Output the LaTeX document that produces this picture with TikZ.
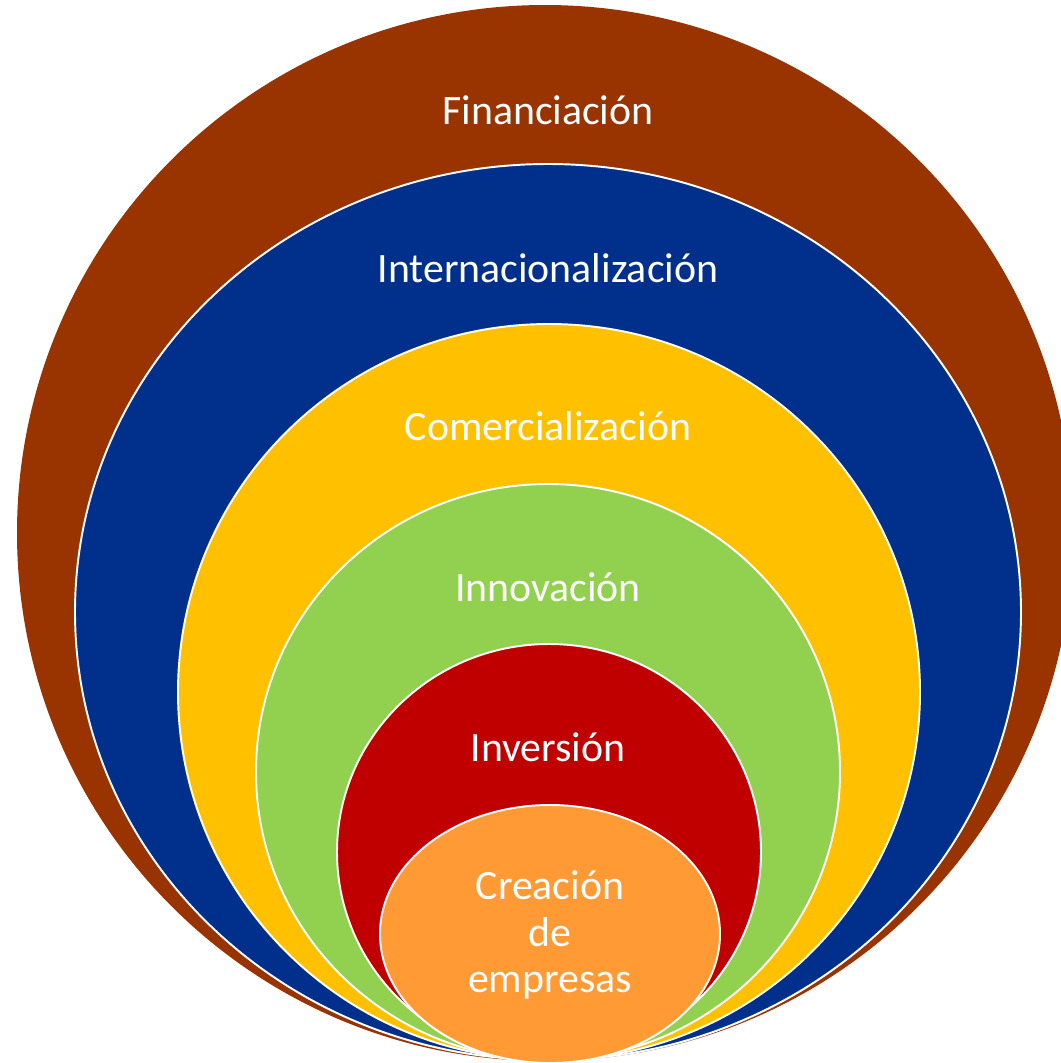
\documentclass[tikz,border=0pt]{standalone}
\usepackage{fontspec}
\setmainfont{Carlito}
\usepackage{tikz}
\usetikzlibrary{positioning}
\definecolor{finbrown}{HTML}{993300}
\definecolor{intblue}{HTML}{00308C}
\definecolor{comyellow}{HTML}{FFC000}
\definecolor{innogreen}{HTML}{92D050}
\definecolor{invred}{HTML}{C00000}
\definecolor{creaorange}{HTML}{FF9A35}
\tikzset{
ring/.style={
  draw=white,
  line width=1.1pt
  },
lbl/.style={
  text=white,
  font=\fontsize{23.8}{26.6}\selectfont,
  align=center,
  inner sep=0pt
  }
}

\begin{document}
\begin{tikzpicture}[x=0.02cm,y=-0.02cm]
        \useasboundingbox (0,0) rectangle (1061,1063);
        \clip (0,0) rectangle (1061,1063);
        \fill[finbrown] (545,533) ellipse [x radius=528,y radius=528];
        \draw[ring,fill=intblue] (548,612) ellipse [x radius=473,y radius=448];
        \draw[ring,fill=comyellow] (549,692) ellipse [x radius=371,y radius=368];
        \draw[ring,fill=innogreen] (548,772) ellipse [x radius=292,y radius=288];
        \draw[ring,fill=invred] (549,852) ellipse [x radius=212,y radius=208];
        \draw[ring,fill=creaorange] (550,934) ellipse [x radius=170,y radius=129];
        \node[lbl] at (548,110) (fin) {Financiación};
        \node[lbl] at (548,268) (int) {Internacionalización};
        \node[lbl] at (548,426) (com) {Comercialización};
        \node[lbl] at (548,587) (inno) {Innovación};
        \node[lbl] at (548,747) (inv) {Inversión};
        \node[lbl] at (550,935) (crea) {Creación\\de\\empresas};
    \end{tikzpicture}
\end{document}
